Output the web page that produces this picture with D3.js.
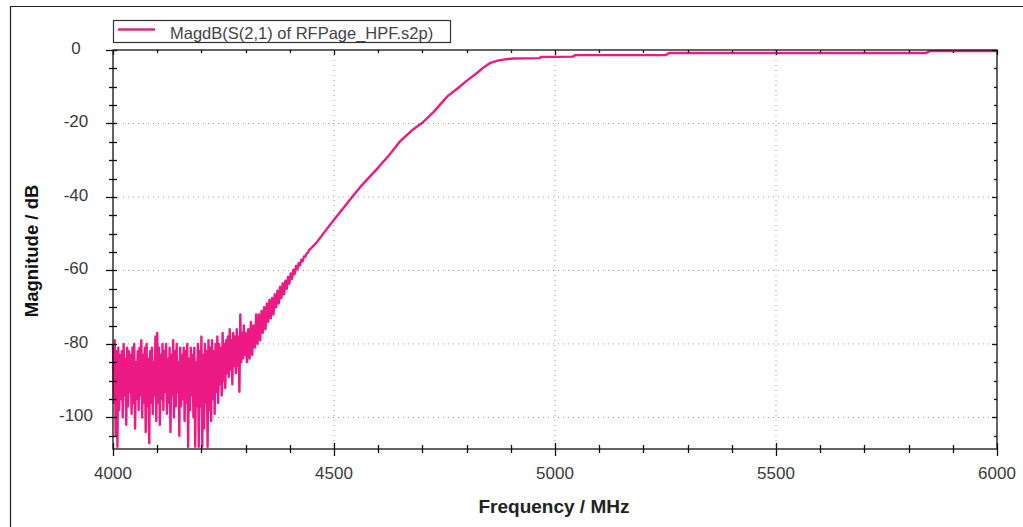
<!DOCTYPE html>
<html>
<head>
<meta charset="utf-8">
<script src="https://cdn.jsdelivr.net/npm/d3@7"></script>
<style>
  body { margin: 0; background: #fff; }
  svg { display: block; font-family: "Liberation Sans", Arial, sans-serif; }
</style>
</head>
<body>
<script>
// S21 magnitude of the high-pass filter
var seriesName = "MagdB(S(2,1) of RFPage_HPF.s2p)";

// noise floor 4000..4298 MHz, sampled every 2 MHz
var noiseStart = 4000, noiseStep = 2;
var noiseDb = [
  -80,-96,-79,-105,-82,-108,-81,-98,-83,-95,
  -82,-100,-80,-94,-84,-102,-81,-97,-82,-93,
  -83,-99,-81,-96,-80,-103,-85,-95,-82,-98,
  -81,-94,-79,-100,-83,-96,-81,-104,-80,-97,
  -84,-107,-82,-96,-81,-99,-85,-94,-78,-101,
  -77,-96,-81,-102,-83,-95,-80,-98,-82,-93,
  -80,-99,-84,-96,-81,-104,-83,-94,-79,-100,
  -82,-97,-80,-93,-85,-105,-81,-97,-83,-95,
  -81,-101,-82,-96,-80,-108,-84,-98,-81,-94,
  -83,-100,-81,-108,-85,-97,-80,-108,-82,-97,
  -78,-108,-83,-103,-80,-96,-82,-108,-79,-98,
  -81,-101,-79,-95,-82,-99,-80,-93,-78,-96,
  -80,-91,-81,-94,-77,-90,-80,-92,-79,-88,
  -78,-89,-76,-87,-79,-91,-77,-86,-78,-88,
  -76,-86,-78,-93,-72,-85,-77,-84,-75,-83
];

// start of the skirt 4300..4447 MHz, every 3 MHz, noise dying out
var skirtStart = 4300, skirtStep = 3;
var skirtDb = [
  -77,-85,-76,-84,-74,-83,-75,-81,-72,-80,
  -72,-79,-71,-77,-70,-76,-69,-74,-68,-73,
  -67.5,-72,-66.5,-70,-65.5,-69,-64.5,-67.5,-63.5,-66.5,
  -62.8,-65,-61.8,-63.6,-60.8,-62.3,-59.8,-61,-58.8,-59.7,
  -58,-58.6,-57.1,-57.5,-56.2,-56.3,-55.4,-55.2,-54.4,-54.1
];

// smooth part of the response
var smoothFreq = [4460, 4480, 4500, 4520, 4541, 4560, 4580, 4600, 4625, 4650,
  4675, 4700, 4725, 4756, 4780, 4800, 4824, 4840, 4854, 4870, 4890, 4906,
  4965, 4968, 5040, 5046, 5250, 5258, 5840, 5848, 6000];
var smoothDb = [-52.5, -49.3, -46.2, -43.2, -40, -37.2, -34.6, -32.0, -28.6, -24.8,
  -22.0, -19.8, -16.9, -12.7, -10.4, -8.4, -6.2, -4.6, -3.5, -2.9, -2.5, -2.3,
  -2.2, -1.9, -1.8, -1.4, -1.4, -0.8, -0.8, -0.3, -0.3];

var xTicks = [4000, 4500, 5000, 5500, 6000];
var yTicks = [0, -20, -40, -60, -80, -100];

// build one point list
var points = [];
noiseDb.forEach(function(v, i) { points.push([noiseStart + i * noiseStep, v]); });
skirtDb.forEach(function(v, i) { points.push([skirtStart + i * skirtStep, v]); });
smoothFreq.forEach(function(f, i) { points.push([f, smoothDb[i]]); });

var width = 1023, height = 527;
// note: "top" is taken by window.top, so use plot* names
var plotLeft = 113, plotRight = 997, plotTop = 50, plotBottom = 449;

var svg = d3.select("body").append("svg")
  .attr("width", width)
  .attr("height", height);

// frame of the screenshot (only top and left show)
svg.append("line").attr("x1", 10).attr("x2", width).attr("y1", 6.5).attr("y2", 6.5)
  .attr("stroke", "#222").attr("stroke-width", 1.2);
svg.append("line").attr("x1", 10.5).attr("x2", 10.5).attr("y1", 6).attr("y2", height)
  .attr("stroke", "#222").attr("stroke-width", 1.2);

var x = d3.scaleLinear().domain([4000, 6000]).range([plotLeft, plotRight]);
var y = d3.scaleLinear().domain([-108.6, 0]).range([plotBottom, plotTop]);

// dotted grid at the labelled ticks
var grid = svg.append("g").attr("stroke", "#9a9a9a").attr("stroke-dasharray", "1,4");
grid.selectAll(".gx").data(xTicks.slice(1, -1)).enter().append("line")
  .attr("x1", function(d) { return x(d); }).attr("x2", function(d) { return x(d); })
  .attr("y1", plotTop).attr("y2", plotBottom);
grid.selectAll(".gy").data(yTicks.slice(1)).enter().append("line")
  .attr("x1", plotLeft).attr("x2", plotRight)
  .attr("y1", function(d) { return y(d); }).attr("y2", function(d) { return y(d); });

// curve
var line = d3.line()
  .x(function(d) { return x(d[0]); })
  .y(function(d) { return y(d[1]); });

svg.append("path")
  .datum(points)
  .attr("fill", "none")
  .attr("stroke", "#ec1a85")
  .attr("stroke-width", 2.4)
  .attr("stroke-linejoin", "round")
  .attr("d", line);

// axes box with ticks on all sides
var minorX = d3.range(4000, 6001, 100);
var minorY = d3.range(0, -108, -5);
var axes = svg.append("g").attr("stroke", "#111").attr("stroke-width", 1.3);

axes.append("rect").attr("x", plotLeft).attr("y", plotTop)
  .attr("width", plotRight - plotLeft).attr("height", plotBottom - plotTop)
  .attr("fill", "none");

axes.selectAll(".tb").data(minorX).enter().append("line")
  .attr("x1", function(d) { return Math.round(x(d)) + 0.5; })
  .attr("x2", function(d) { return Math.round(x(d)) + 0.5; })
  .attr("y1", function(d) { return plotBottom - (d % 500 ? 4 : 6); })
  .attr("y2", function(d) { return plotBottom + (d % 500 ? 4 : 7); });
axes.selectAll(".tt").data(minorX).enter().append("line")
  .attr("x1", function(d) { return Math.round(x(d)) + 0.5; })
  .attr("x2", function(d) { return Math.round(x(d)) + 0.5; })
  .attr("y1", plotTop).attr("y2", function(d) { return plotTop + (d % 500 ? 3 : 5); });
axes.selectAll(".tl").data(minorY).enter().append("line")
  .attr("y1", function(d) { return Math.round(y(d)) + 0.5; })
  .attr("y2", function(d) { return Math.round(y(d)) + 0.5; })
  .attr("x1", function(d) { return plotLeft - (d % 20 ? 4 : 7); })
  .attr("x2", function(d) { return plotLeft + 4; });
axes.selectAll(".tr").data(minorY).enter().append("line")
  .attr("y1", function(d) { return Math.round(y(d)) + 0.5; })
  .attr("y2", function(d) { return Math.round(y(d)) + 0.5; })
  .attr("x1", plotRight).attr("x2", function(d) { return plotRight - (d % 20 ? 3 : 5); });

// tick labels
svg.selectAll(".xl").data(xTicks).enter().append("text")
  .attr("x", function(d) { return x(d); })
  .attr("y", 479)
  .attr("text-anchor", "middle")
  .attr("font-size", 17)
  .attr("fill", "#3a3a3a")
  .text(function(d) { return d; });

svg.selectAll(".yl").data(yTicks).enter().append("text")
  .attr("x", 76)
  .attr("y", function(d) { return y(d) + 4; })
  .attr("text-anchor", "middle")
  .attr("font-size", 17)
  .attr("fill", "#3a3a3a")
  .text(function(d) { return d; });

// axis titles
svg.append("text")
  .attr("x", 554).attr("y", 513)
  .attr("text-anchor", "middle")
  .attr("font-size", 19).attr("font-weight", "bold").attr("fill", "#222")
  .text("Frequency / MHz");

svg.append("text")
  .attr("transform", "translate(38,251) rotate(-90)")
  .attr("text-anchor", "middle")
  .attr("font-size", 18.5).attr("font-weight", "bold").attr("fill", "#111")
  .text("Magnitude / dB");

// legend
var legend = svg.append("g");
legend.append("rect")
  .attr("x", 113.5).attr("y", 20.5).attr("width", 337).attr("height", 22)
  .attr("fill", "#fff").attr("stroke", "#333").attr("stroke-width", 1.2);
legend.append("line")
  .attr("x1", 118).attr("x2", 155).attr("y1", 29.5).attr("y2", 29.5)
  .attr("stroke", "#d0307a").attr("stroke-width", 2.5);
legend.append("text")
  .attr("x", 170).attr("y", 39)
  .attr("font-size", 16.5).attr("fill", "#444")
  .text(seriesName);
</script>
</body>
</html>
